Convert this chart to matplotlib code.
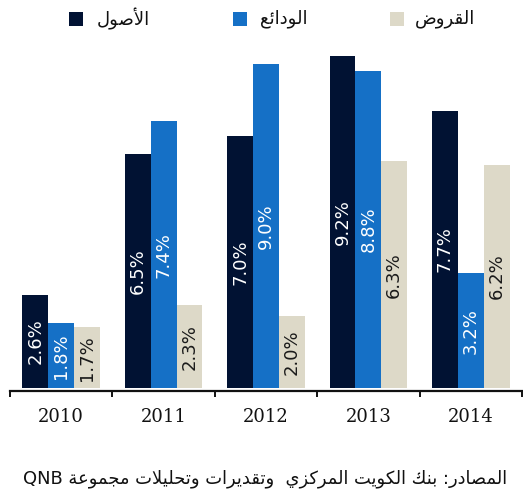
import numpy as np
import matplotlib
matplotlib.use("Agg")
import matplotlib.pyplot as plt
from matplotlib.patches import Rectangle

years = ["2010", "2011", "2012", "2013", "2014"]
series = ["الأصول", "الودائع", "القروض"]
assets = [2.6, 6.5, 7.0, 9.2, 7.7]
deposits = [1.8, 7.4, 9.0, 8.8, 3.2]
loans = [1.7, 2.3, 2.0, 6.3, 6.2]
source = "المصادر: بنك الكويت المركزي  وتقديرات وتحليلات مجموعة QNB"

colors = ["#011233", "#1570C6", "#DDD9C8"]
label_colors = ["white", "white", "#1a1a1a"]

# arabic presentation forms: isolated, final, initial, medial
FORMS = {
    'ا': ('\uFE8D', '\uFE8E', None, None),
    'أ': ('\uFE83', '\uFE84', None, None),
    'ب': ('\uFE8F', '\uFE90', '\uFE91', '\uFE92'),
    'ة': ('\uFE93', '\uFE94', None, None),
    'ت': ('\uFE95', '\uFE96', '\uFE97', '\uFE98'),
    'ج': ('\uFE9D', '\uFE9E', '\uFE9F', '\uFEA0'),
    'ح': ('\uFEA1', '\uFEA2', '\uFEA3', '\uFEA4'),
    'د': ('\uFEA9', '\uFEAA', None, None),
    'ر': ('\uFEAD', '\uFEAE', None, None),
    'ز': ('\uFEAF', '\uFEB0', None, None),
    'ص': ('\uFEB9', '\uFEBA', '\uFEBB', '\uFEBC'),
    'ض': ('\uFEBD', '\uFEBE', '\uFEBF', '\uFEC0'),
    'ع': ('\uFEC9', '\uFECA', '\uFECB', '\uFECC'),
    'ق': ('\uFED5', '\uFED6', '\uFED7', '\uFED8'),
    'ك': ('\uFED9', '\uFEDA', '\uFEDB', '\uFEDC'),
    'ل': ('\uFEDD', '\uFEDE', '\uFEDF', '\uFEE0'),
    'م': ('\uFEE1', '\uFEE2', '\uFEE3', '\uFEE4'),
    'ن': ('\uFEE5', '\uFEE6', '\uFEE7', '\uFEE8'),
    'و': ('\uFEED', '\uFEEE', None, None),
    'ي': ('\uFEF1', '\uFEF2', '\uFEF3', '\uFEF4'),
    'ئ': ('\uFE89', '\uFE8A', '\uFE8B', '\uFE8C'),
}
LAM_ALEF = {'ا': ('\uFEFB', '\uFEFC', None, None), 'أ': ('\uFEF7', '\uFEF8', None, None)}


def shape_word(w):
    toks = []
    i = 0
    while i < len(w):
        c = w[i]
        if c == 'ل' and i + 1 < len(w) and w[i + 1] in LAM_ALEF:
            toks.append(LAM_ALEF[w[i + 1]])
            i += 2
            continue
        toks.append(FORMS.get(c, c))
        i += 1
    out = []
    for k, t in enumerate(toks):
        if isinstance(t, str):
            out.append(t)
            continue
        prev = toks[k - 1] if k > 0 else None
        nxt = toks[k + 1] if k + 1 < len(toks) else None
        jp = isinstance(prev, tuple) and prev[2] is not None
        jn = t[2] is not None and isinstance(nxt, tuple)
        if jp and jn:
            out.append(t[3])
        elif jp:
            out.append(t[1])
        elif jn:
            out.append(t[2])
        else:
            out.append(t[0])
    return ''.join(out)


def ar(text):
    # shape, then lay the words out right to left
    words = text.split(' ')[::-1]
    res = []
    for w in words:
        if any(ch in FORMS for ch in w):
            res.append(shape_word(w)[::-1])
        else:
            res.append(w)
    return ' '.join(res)


fig = plt.figure(figsize=(5.23, 4.93), dpi=100)
ax = fig.add_axes([10 / 523, 102 / 493, 512 / 523, 363.5 / 493])

x = np.arange(len(years))
w = 0.252
for i, vals in enumerate([assets, deposits, loans]):
    bars = ax.bar(x + (i - 1) * w, vals, w, color=colors[i], linewidth=0)
    ax.bar_label(bars, labels=["%.1f%%" % v for v in vals], label_type='center',
                 rotation=90, fontsize=13, color=label_colors[i],
                 family=['DejaVu Sans'])

ax.set_xlim(-0.5, len(years) - 0.5)
ax.set_ylim(-0.07, 10)
ax.set_yticks([])
for s in ['left', 'right', 'top']:
    ax.spines[s].set_visible(False)
ax.spines['bottom'].set_linewidth(1.6)
ax.spines['bottom'].set_color('#111111')

ax.set_xticks(x)
ax.set_xticklabels(years, family=['DejaVu Serif'], fontsize=13, color='#111111')
ax.tick_params(axis='x', which='major', length=0, pad=12.5)
ax.set_xticks(np.arange(-0.5, len(years)), minor=True)
ax.tick_params(axis='x', which='minor', length=4, width=1.4, color='#111111')

# legend
leg_sq = [69, 233, 390]
leg_tx = [97, 260, 415]
for i, name in enumerate(series):
    fig.add_artist(Rectangle((leg_sq[i] / 523, 1 - 26 / 493), 14 / 523, 14 / 493,
                             transform=fig.transFigure, color=colors[i], lw=0))
    fig.text(leg_tx[i] / 523, 1 - 19 / 493, ar(name), ha='left', va='center',
             fontsize=13, family=['DejaVu Sans'], color='#111111')

fig.text(507 / 523, 1 - 479 / 493, ar(source), ha='right', va='center',
         fontsize=12.9, family=['DejaVu Sans'], color='#111111')

fig.savefig("out.png", dpi=100)
